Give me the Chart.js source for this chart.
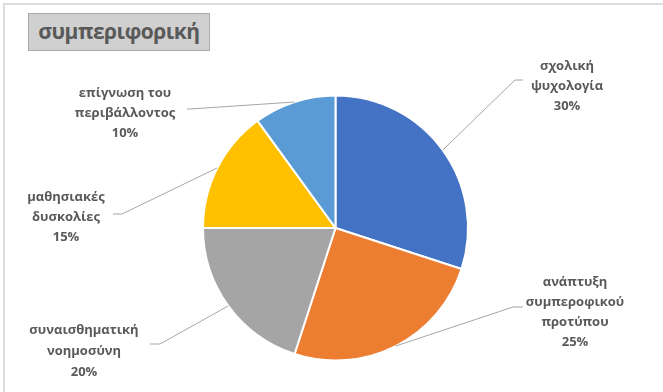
<!DOCTYPE html>
<html>
<head>
<meta charset="utf-8">
<script src="https://cdn.jsdelivr.net/npm/chart.js@4.4.0/dist/chart.umd.min.js"></script>
<style>
  html, body { margin: 0; padding: 0; background: #fff; }
  #wrap { position: relative; width: 663px; height: 392px; overflow: hidden; }
  #frame { position: absolute; left: 3px; top: 3px; width: 700px; height: 420px;
           border-top: 2px solid #dcdcdc; border-left: 2px solid #dcdcdc; }
  #title { position: absolute; left: 28px; top: 13px; width: 182px; height: 38px;
           background: #d0d0d0; border: 1px solid #ababab; box-sizing: border-box;
           font: bold 21px 'Open Sans', sans-serif; letter-spacing: -0.5px; color: #595959;
           text-align: center; line-height: 35px; }
  canvas { position: absolute; left: 0; top: 0; }
</style>
</head>
<body>
<div id="wrap">
  <div id="frame"></div>
  <canvas id="pie" width="663" height="392"></canvas>
  <div id="title">συμπεριφορική</div>
</div>
<script>
const CATEGORIES = [
  ['σχολική', 'ψυχολογία'],
  ['ανάπτυξη', 'συμπεροφικού', 'προτύπου'],
  ['συναισθηματική', 'νοημοσύνη'],
  ['μαθησιακές', 'δυσκολίες'],
  ['επίγνωση του', 'περιβάλλοντος']
];
const VALUES = [30, 25, 20, 15, 10];
const COLORS = ['#4472C4', '#ED7D31', '#A5A5A5', '#FFC000', '#5B9BD5'];

// label block centre x, first row y, row step, and the leader elbow/end points
const SPOTS = [
  { x: 567, y: 66,  step: 20, elbow: [515, 80],  end: [523, 80] },
  { x: 575, y: 282, step: 20, elbow: [513, 307], end: [523, 307] },
  { x: 84,  y: 330, step: 21, elbow: [160, 344], end: [150, 344] },
  { x: 66,  y: 197, step: 20, elbow: [122, 214], end: [113, 214] },
  { x: 125, y: 93,  step: 20, elbow: [190, 109], end: [187, 109] }
];

const leaderLabels = {
  id: 'leaderLabels',
  afterDatasetsDraw(chart) {
    const ctx = chart.ctx;
    const meta = chart.getDatasetMeta(0);
    const total = VALUES.reduce((a, b) => a + b, 0);
    ctx.save();
    meta.data.forEach((arc, i) => {
      const s = SPOTS[i];
      const mid = (arc.startAngle + arc.endAngle) / 2;
      const sx = arc.x + Math.cos(mid) * arc.outerRadius;
      const sy = arc.y + Math.sin(mid) * arc.outerRadius;
      ctx.strokeStyle = '#a6a6a6';
      ctx.lineWidth = 1;
      ctx.beginPath();
      ctx.moveTo(sx, sy);
      ctx.lineTo(s.elbow[0], s.elbow[1]);
      ctx.lineTo(s.end[0], s.end[1]);
      ctx.stroke();

      const rows = CATEGORIES[i].concat(Math.round(VALUES[i] / total * 100) + '%');
      ctx.fillStyle = '#595959';
      ctx.font = 'bold 13px "Open Sans", sans-serif';
      ctx.textAlign = 'center';
      ctx.textBaseline = 'middle';
      rows.forEach((t, k) => ctx.fillText(t, s.x, s.y + k * s.step));
    });
    ctx.restore();
  }
};

new Chart(document.getElementById('pie'), {
  type: 'pie',
  data: {
    labels: CATEGORIES,
    datasets: [{
      data: VALUES,
      backgroundColor: COLORS,
      borderColor: '#ffffff',
      borderWidth: 2
    }]
  },
  options: {
    responsive: false,
    animation: false,
    layout: { padding: { top: 94, bottom: 30, left: 202, right: 194 } },
    plugins: { legend: { display: false }, tooltip: { enabled: false } }
  },
  plugins: [leaderLabels]
});
</script>
</body>
</html>
